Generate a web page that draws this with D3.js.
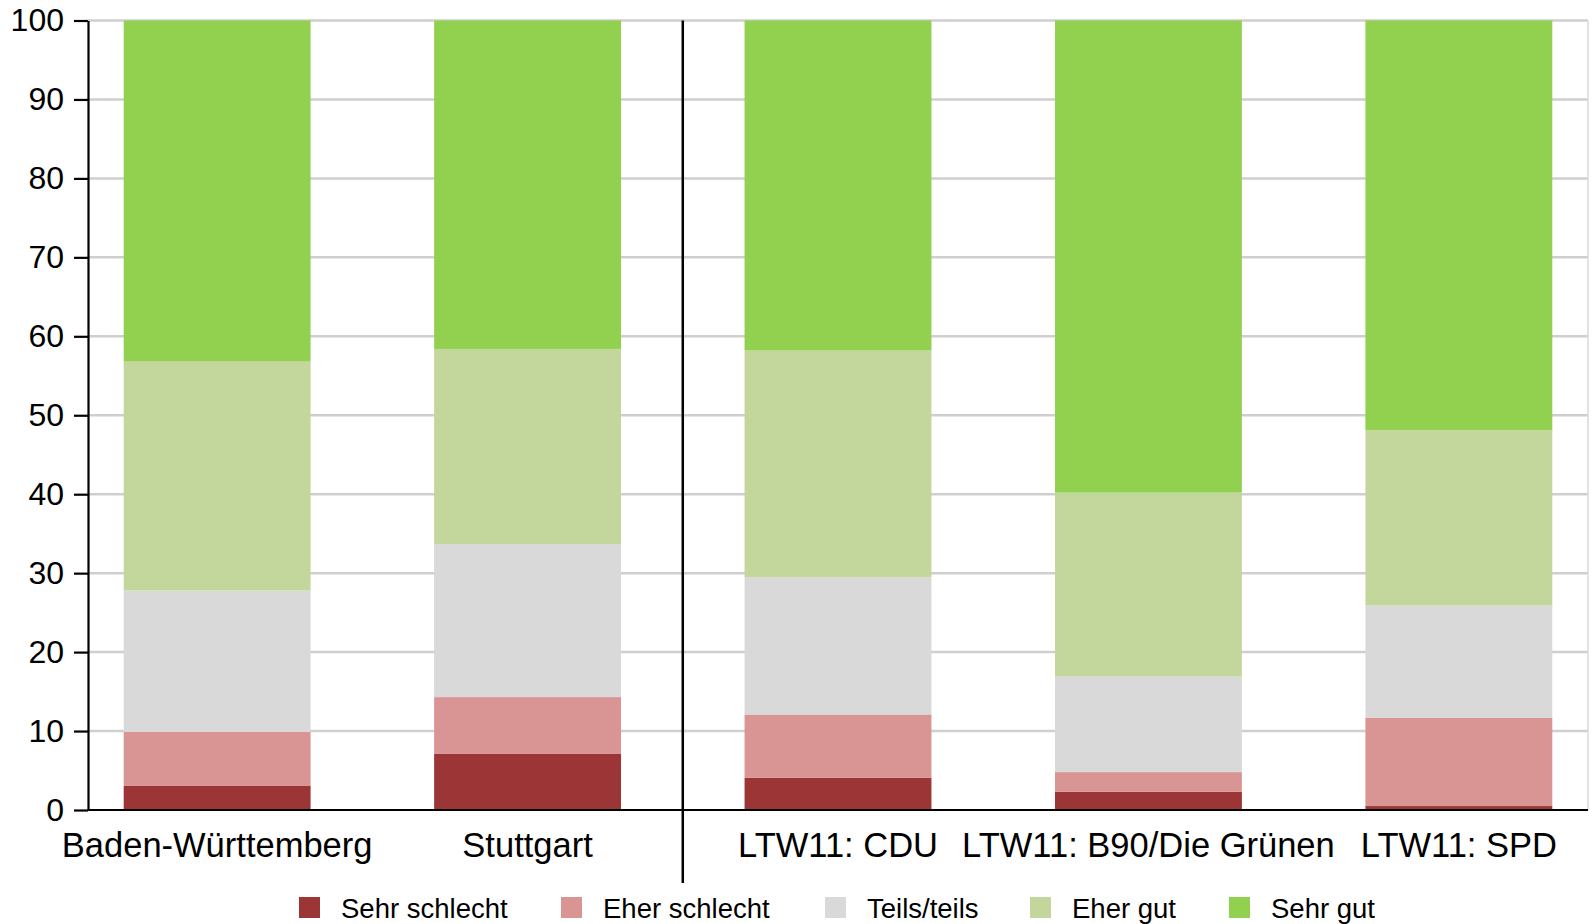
<!DOCTYPE html>
<html>
<head>
<meta charset="utf-8">
<script src="https://cdn.jsdelivr.net/npm/d3@7"></script>
<style>
  body { margin: 0; background: #fff; }
  svg { font-family: "Liberation Sans", Arial, sans-serif; }
</style>
</head>
<body>
<div id="chart"></div>
<script>
// categories and answer levels
var categories = ["Baden-Württemberg", "Stuttgart", "LTW11: CDU", "LTW11: B90/Die Grünen", "LTW11: SPD"];
var levels = ["Sehr schlecht", "Eher schlecht", "Teils/teils", "Eher gut", "Sehr gut"];
var colors = ["#9b3536", "#d99594", "#d9d9d9", "#c3d69b", "#92d050"];

// shares per category (percent)
var sehrSchlecht  = [3.1, 7.1, 4.1, 2.3, 0.5];
var eherSchlecht  = [6.8, 7.2, 8.0, 2.5, 11.2];
var teilsTeils    = [17.9, 19.4, 17.4, 12.1, 14.2];
var eherGut       = [29.0, 24.7, 28.7, 23.3, 22.2];
var sehrGut       = [43.2, 41.6, 41.8, 59.8, 51.9];

var yTicks = [0, 10, 20, 30, 40, 50, 60, 70, 80, 90, 100];

var W = 1593, H = 924;
var margin = {left: 88, right: 1588, top: 20.5, bottom: 810};

var svg = d3.select("#chart").append("svg")
    .attr("width", W)
    .attr("height", H);

// build rows for the stack
var series = [sehrSchlecht, eherSchlecht, teilsTeils, eherGut, sehrGut];
var rows = categories.map(function(c, i) {
    var r = {cat: c};
    levels.forEach(function(l, j) { r[l] = series[j][i]; });
    return r;
});
var stacked = d3.stack().keys(levels)(rows);

var x = d3.scaleBand()
    .domain(categories)
    .range([margin.left, margin.right])
    .paddingInner(0.398)
    .paddingOuter(0.115);

var y = d3.scaleLinear()
    .domain([0, 100])
    .range([margin.bottom, margin.top]);

// grid lines
svg.append("g")
    .selectAll("line")
    .data(yTicks.filter(d => d > 0))
    .enter()
    .append("line")
    .attr("x1", margin.left)
    .attr("x2", margin.right)
    .attr("y1", d => y(d))
    .attr("y2", d => y(d))
    .attr("stroke", "#cfcfcf")
    .attr("stroke-width", 2.5);

// right border
svg.append("line")
    .attr("x1", margin.right).attr("x2", margin.right)
    .attr("y1", y(100)).attr("y2", y(0))
    .attr("stroke", "#d9d9d9")
    .attr("stroke-width", 1.5);

// bars
svg.append("g")
    .selectAll("g")
    .data(stacked)
    .enter()
    .append("g")
    .attr("fill", (d, i) => colors[i])
    .selectAll("rect")
    .data(d => d)
    .enter()
    .append("rect")
    .attr("x", d => x(d.data.cat))
    .attr("width", x.bandwidth())
    .attr("y", d => y(d[1]))
    .attr("height", d => y(d[0]) - y(d[1]));

// y axis
var yAxis = svg.append("g")
    .attr("transform", `translate(${margin.left},0)`)
    .call(d3.axisLeft(y).tickValues(yTicks).tickSize(14).tickSizeOuter(0).tickPadding(10));
yAxis.select(".domain").attr("stroke", "#000").attr("stroke-width", 2.2);
yAxis.selectAll(".tick line").attr("stroke", "#000").attr("stroke-width", 2.2);
yAxis.selectAll(".tick text")
    .attr("fill", "#000")
    .style("font-size", "32px")
    .style("font-family", "'Liberation Sans', Arial, sans-serif");

// x axis line
svg.append("line")
    .attr("x1", margin.left).attr("x2", margin.right)
    .attr("y1", y(0)).attr("y2", y(0))
    .attr("stroke", "#000")
    .attr("stroke-width", 2.2);

// category labels
svg.append("g")
    .selectAll("text")
    .data(categories)
    .enter()
    .append("text")
    .attr("x", d => x(d) + x.bandwidth() / 2)
    .attr("y", 857)
    .attr("text-anchor", "middle")
    .style("font-size", "34.5px")
    .attr("fill", "#000")
    .text(d => d);

// divider between regions and parties
var divX = (x(categories[1]) + x.bandwidth() + x(categories[2])) / 2;
svg.append("line")
    .attr("x1", divX).attr("x2", divX)
    .attr("y1", y(100)).attr("y2", 883)
    .attr("stroke", "#000")
    .attr("stroke-width", 2.5);

// legend
var legendX = [299, 561, 825, 1030, 1229];
var legend = svg.append("g")
    .selectAll("g")
    .data(levels)
    .enter()
    .append("g")
    .attr("transform", (d, i) => `translate(${legendX[i]},897)`);

legend.append("rect")
    .attr("width", 21)
    .attr("height", 21)
    .attr("fill", (d, i) => colors[i]);

legend.append("text")
    .attr("x", 42)
    .attr("y", 21)
    .style("font-size", "27.5px")
    .attr("fill", "#000")
    .text(d => d);
</script>
</body>
</html>
